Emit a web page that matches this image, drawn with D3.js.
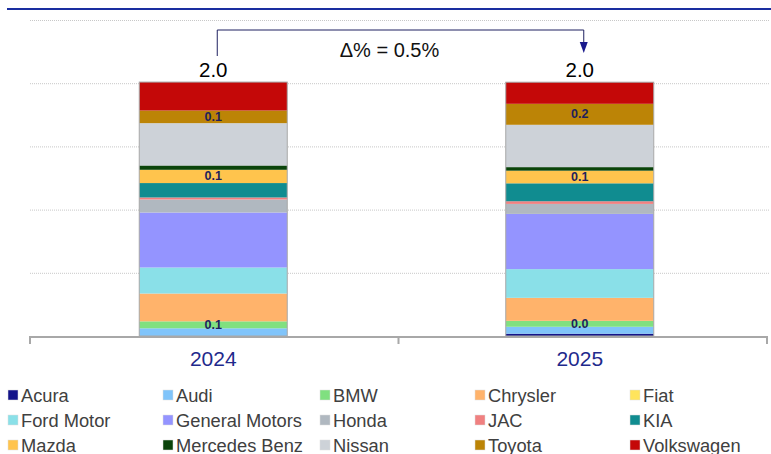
<!DOCTYPE html>
<html>
<head>
<meta charset="utf-8">
<style>
body { margin: 0; background: #fff; }
svg { display: block; font-family: "Liberation Sans", Arial, sans-serif; }
.grid line { stroke: #c8c8c8; stroke-dasharray: 1,1; }
.seg-label { font-size: 12.5px; font-weight: bold; fill: #1f1f5c; }
.legend text { font-size: 18.3px; fill: #404040; }
</style>
</head>
<body>
<script src="https://d3js.org/d3.v7.min.js"></script>
<script>
var width = 771, height = 454;

// data
var years = ["2024", "2025"];
var brands = ["Acura", "Audi", "BMW", "Chrysler", "Fiat", "Ford Motor", "General Motors", "Honda",
              "JAC", "KIA", "Mazda", "Mercedes Benz", "Nissan", "Toyota", "Volkswagen"];
var values2024 = [0.0, 0.061, 0.055, 0.22, 0.0, 0.206, 0.435, 0.103, 0.016, 0.114, 0.105, 0.034, 0.335, 0.10, 0.225];
var values2025 = [0.018, 0.055, 0.047, 0.182, 0.0, 0.227, 0.437, 0.079, 0.021, 0.142, 0.10, 0.028, 0.335, 0.166, 0.171];
var colors = ["#14148a", "#80c4fa", "#80e080", "#ffb36b", "#ffe45c", "#8ae0e8", "#9494ff", "#b0b8c0",
              "#f08080", "#108c90", "#ffc44d", "#0a440a", "#cdd2d8", "#bc8406", "#c40808"];
var labelled = ["BMW", "Mazda", "Toyota"]; // segments that carry a value label
var totalLabels = ["2.0", "2.0"];
var deltaText = "\u0394% = 0.5%";
var yTicks = [0, 0.5, 1.0, 1.5, 2.0, 2.5];

var table = years.map(function(y, i) {
  var row = {year: y};
  var vals = i === 0 ? values2024 : values2025;
  brands.forEach(function(b, j) { row[b] = vals[j]; });
  return row;
});

var svg = d3.select("body").append("svg")
  .attr("width", width)
  .attr("height", height);

// header rule
svg.append("line")
  .attr("x1", 7).attr("x2", width)
  .attr("y1", 9).attr("y2", 9)
  .attr("stroke", "#1a2ea0")
  .attr("stroke-width", 2);

// bars sit slightly left of the axis category centres, as in the original
var x = d3.scaleBand()
  .domain(years)
  .range([30, 763])
  .paddingInner(0)
  .paddingOuter(0);

var barW = 148;

var y = d3.scaleLinear()
  .domain([0, 2.5])
  .range([336, 20]);

// gridlines
svg.append("g").attr("class", "grid")
  .selectAll("line")
  .data(yTicks.slice(1))
  .enter().append("line")
  .attr("x1", 30).attr("x2", 769)
  .attr("y1", function(d) { return y(d) + 0.5; })
  .attr("y2", function(d) { return y(d) + 0.5; });

var stack = d3.stack().keys(brands);
var series = stack(table);

var layers = svg.append("g").selectAll("g")
  .data(series)
  .enter().append("g")
  .attr("fill", function(d, i) { return colors[i]; });

layers.selectAll("rect")
  .data(function(d) { return d; })
  .enter().append("rect")
  .attr("x", function(d) { return x(d.data.year) + (x.bandwidth() - barW) / 2; })
  .attr("width", barW)
  .attr("y", function(d) { return y(d[1]); })
  .attr("height", function(d) { return y(d[0]) - y(d[1]); });

// bar outlines
svg.append("g").selectAll("rect")
  .data(table)
  .enter().append("rect")
  .attr("x", function(d) { return x(d.year) + (x.bandwidth() - barW) / 2; })
  .attr("width", barW)
  .attr("y", function(d) { return y(d3.sum(brands, function(b) { return d[b]; })); })
  .attr("height", function(d) { return y(0) - y(d3.sum(brands, function(b) { return d[b]; })); })
  .attr("fill", "none")
  .attr("stroke", "#a8a8a8")
  .attr("stroke-width", 1);

// segment labels
series.filter(function(s) { return labelled.indexOf(s.key) >= 0; }).forEach(function(s) {
  svg.append("g").selectAll("text")
    .data(s)
    .enter().append("text")
    .attr("class", "seg-label")
    .attr("x", function(d) { return x(d.data.year) + x.bandwidth() / 2; })
    .attr("y", function(d) { return (y(d[0]) + y(d[1])) / 2 + 4; })
    .attr("text-anchor", "middle")
    .text(function(d) { return d3.format(".1f")(d[1] - d[0]); });
});

// totals
svg.append("g").selectAll("text")
  .data(years)
  .enter().append("text")
  .attr("x", function(d) { return x(d) + x.bandwidth() / 2; })
  .attr("y", 77)
  .attr("text-anchor", "middle")
  .attr("font-size", "20.5px")
  .attr("fill", "#000")
  .text(function(d, i) { return totalLabels[i]; });

// delta bracket
var bx1 = x(years[0]) + x.bandwidth() / 2 + 4,
    bx2 = x(years[1]) + x.bandwidth() / 2 + 4;
svg.append("path")
  .attr("d", "M" + bx1 + ",56V30H" + bx2 + "V44")
  .attr("fill", "none")
  .attr("stroke", "#1f2060")
  .attr("stroke-width", 1);
svg.append("path")
  .attr("d", "M" + (bx2 - 4) + ",42L" + (bx2 + 4) + ",42L" + bx2 + ",53Z")
  .attr("fill", "#1a1a8c");
svg.append("text")
  .attr("x", (bx1 + bx2) / 2 - 11)
  .attr("y", 57)
  .attr("text-anchor", "middle")
  .attr("font-size", "20px")
  .attr("fill", "#111")
  .text(deltaText);

// x axis
var axis = svg.append("g")
  .attr("transform", "translate(0," + 337 + ")")
  .call(d3.axisBottom(x).tickSize(0).tickPadding(14));
axis.select(".domain").remove();
axis.append("path")
  .attr("d", "M30,7V0H767V7M398.5,0V7")
  .attr("fill", "none")
  .attr("stroke", "#a8a8a8")
  .attr("stroke-width", 2);
axis.selectAll(".tick text")
  .attr("font-size", "21px")
  .attr("font-family", "Liberation Sans, Arial, sans-serif")
  .attr("fill", "#1f2a8c");

// legend
var colX = [8, 163, 320, 475, 630];
var rowY = [395, 420, 445];
var legend = svg.append("g").attr("class", "legend")
  .selectAll("g")
  .data(brands)
  .enter().append("g")
  .attr("transform", function(d, i) {
    return "translate(" + colX[i % 5] + "," + rowY[Math.floor(i / 5)] + ")";
  });
legend.append("rect")
  .attr("x", 0).attr("y", -5)
  .attr("width", 10).attr("height", 10)
  .attr("fill", function(d, i) { return colors[i]; })
  .attr("stroke", "#ddd")
  .attr("stroke-width", 0.5);
legend.append("text")
  .attr("x", 13)
  .attr("y", 6.5)
  .text(function(d) { return d; });
</script>
</body>
</html>
